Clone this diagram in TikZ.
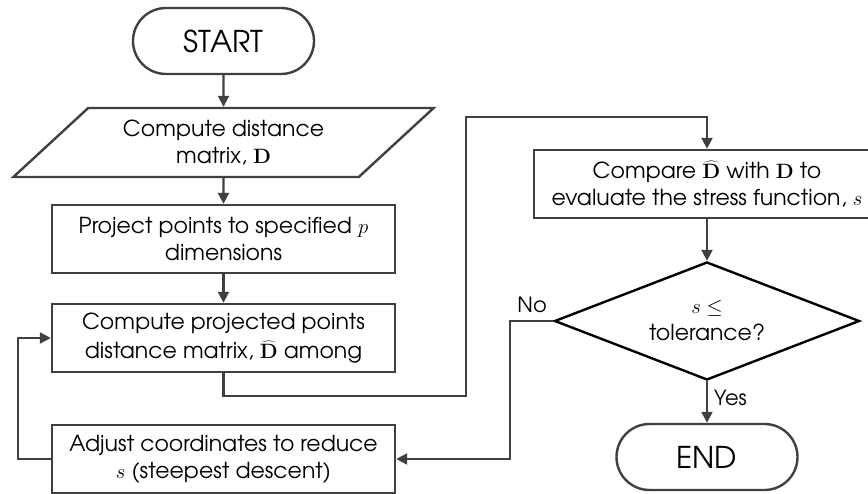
\documentclass[tikz,border=0pt]{standalone}
\usepackage[no-math]{fontspec}
\setmainfont{texgyreadventor}[Extension=.otf, UprightFont=*-regular, BoldFont=*-bold, ItalicFont=*-italic, BoldItalicFont=*-bolditalic]
\usetikzlibrary{shapes.geometric, arrows.meta}
\definecolor{lineg}{RGB}{64,64,64}
\begin{document}
\begin{tikzpicture}[x=1pt, y=-1pt,
  txt/.style={font=\fontsize{22}{27}\selectfont, align=center, inner sep=0pt, text=black},
  proc/.style={txt, rectangle, draw=lineg, line width=2.4pt, fill=white, minimum width=343pt, minimum height=68pt},
  term/.style={txt, rectangle, rounded corners=33pt, draw=lineg, line width=2.4pt, fill=white, minimum width=181pt, minimum height=66pt, font=\fontsize{30}{36}\selectfont},
  iobox/.style={txt, trapezium, trapezium left angle=39, trapezium right angle=141, trapezium stretches=true, draw=lineg, line width=2.4pt, fill=white, minimum width=422pt, minimum height=69pt},
  decision/.style={txt, diamond, aspect=2.58, draw=black, line width=2.4pt, fill=white, minimum width=305pt, minimum height=118pt},
  conn/.style={draw=lineg, line width=2.2pt, -{Triangle[length=11pt,width=11pt]}},
  lbl/.style={font=\fontsize{21}{25}\selectfont, inner sep=0pt, text=black}
]
\fill[white] (0,0) rectangle (868,494);
\useasboundingbox (0,0) rectangle (868,494);

% left column
\node[term] (start) at (223.5,41) {START};
\node[iobox] (dist) at (223.5,142.5) {Compute distance\\matrix, $\mathbf{D}$};
\node[proc] (proj) at (223.5,239) {Project points to specified $p$\\dimensions};
\node[proc] (cdist) at (223.5,338) {Compute projected points\\[2pt]distance matrix, $\widehat{\mathbf{D}}$ among};
\node[proc] (adj) at (223.5,459) {Adjust coordinates to reduce\\$s$ (steepest descent)};

% right column
\node[proc, minimum width=346pt] (cmp) at (707,184) {Compare $\widehat{\mathbf{D}}$ with $\mathbf{D}$ to\\evaluate the stress function, $s$};
\node[decision] (tol) at (707,321) {$s\leq$\\tolerance?};
\node[term] (end) at (707,457) {END};

% bend points of the routed connectors
\coordinate (r1) at (466,396);
\coordinate (r2) at (466,117);
\coordinate (n1) at (510,321);
\coordinate (f1) at (18,459);

\draw[conn] (start) -- (dist);
\draw[conn] (dist) -- (proj);
\draw[conn] (proj) -- (cdist);
\draw[conn] (cdist.south) |- (r1) -- (r2) -| (cmp.north);
\draw[conn] (cmp) -- (tol);
\draw[conn] (tol) -- node[lbl, right=6pt, pos=0.4] (yes) {Yes} (end);
\draw[conn] (tol.west) -- (n1) |- (adj.east);
\node[lbl] (no) at (532,305) {No};
\draw[conn] (adj.west) -- (f1) |- (cdist.west);
\end{tikzpicture}
\end{document}
